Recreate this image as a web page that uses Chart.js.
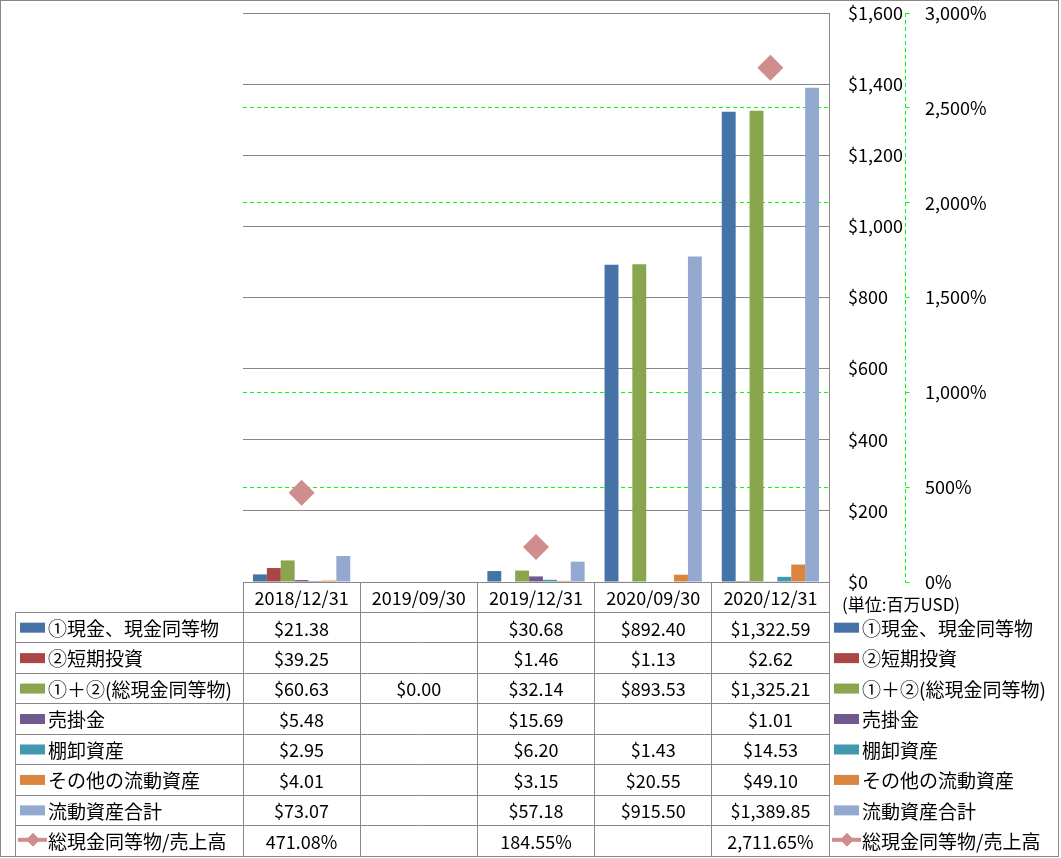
<!DOCTYPE html>
<html><head><meta charset="utf-8">
<script src="https://cdn.jsdelivr.net/npm/chart.js@4"></script>
<style>html,body{margin:0;padding:0;background:#fff}#wrap{width:1061px;height:858px;position:relative}</style>
</head><body><div id="wrap"><canvas id="c"></canvas></div>
<script>
const categories = ['2018/12/31','2019/09/30','2019/12/31','2020/09/30','2020/12/31'];
const cashEq      = [21.38, null, 30.68, 892.40, 1322.59];
const shortInv    = [39.25, null, 1.46, 1.13, 2.62];
const totalCash   = [60.63, 0.00, 32.14, 893.53, 1325.21];
const receivables = [5.48, null, 15.69, null, 1.01];
const inventory   = [2.95, null, 6.20, 1.43, 14.53];
const otherCur    = [4.01, null, 3.15, 20.55, 49.10];
const curTotal    = [73.07, null, 57.18, 915.50, 1389.85];
const cashToSales = [471.08, null, 184.55, null, 2711.65];

const barNames = ['①現金、現金同等物','②短期投資','①＋②(総現金同等物)','売掛金','棚卸資産','その他の流動資産','流動資産合計'];
const barValues = [cashEq, shortInv, totalCash, receivables, inventory, otherCur, curTotal];
const barColors = ['#4572A7','#AA4643','#89A54E','#71588F','#4198AF','#DB843D','#93A9CF'];
const lineName = '総現金同等物/売上高';
const lineColor = '#CF8D8D';
const unitLabel = '(単位:百万USD)';

const FONT = '"Noto Sans CJK JP", sans-serif';
const GRAY = '#878787';
const GREEN = '#00FF00';

const fmtMoney = v => '$' + v.toLocaleString('en-US',{minimumFractionDigits:2, maximumFractionDigits:2});
const fmtPct = v => v.toLocaleString('en-US',{minimumFractionDigits:2, maximumFractionDigits:2}) + '%';

const datasets = barValues.map((vals,i)=>({
  type:'bar', label: barNames[i], data: vals, backgroundColor: barColors[i],
  yAxisID:'y', categoryPercentage:0.83, barPercentage:1.0, borderWidth:0
}));
datasets.push({
  type:'line', label: lineName, data: cashToSales, yAxisID:'y1', showLine:false,
  pointStyle:'rectRot', pointRadius:13, pointHoverRadius:13,
  backgroundColor: lineColor, borderColor: lineColor, pointBorderWidth:0
});

const al = v => Math.round(v - 0.5) + 0.5;

const greenGridPlugin = {
  id:'greenGrid',
  beforeDraw(chart){
    const ctx = chart.ctx, ca = chart.chartArea, y1 = chart.scales.y1;
    ctx.save();
    ctx.strokeStyle = GREEN; ctx.lineWidth = 1;
    y1.ticks.forEach(t => {
      const yy = al(y1.getPixelForValue(t.value));
      if (t.value !== 0 && t.value !== 3000) {
        ctx.setLineDash([4,3]);
        ctx.beginPath(); ctx.moveTo(ca.left, yy); ctx.lineTo(ca.right, yy); ctx.stroke();
      }
      ctx.setLineDash([]);
      ctx.beginPath(); ctx.moveTo(al(y1.left), yy); ctx.lineTo(al(y1.left) + 4, yy); ctx.stroke();
    });
    ctx.setLineDash([4,3]);
    ctx.beginPath(); ctx.moveTo(al(y1.left), ca.top); ctx.lineTo(al(y1.left), ca.bottom); ctx.stroke();
    ctx.restore();
  }
};

const tablePlugin = {
  id:'tablePlugin',
  afterDraw(chart){
    const ctx = chart.ctx, x = chart.scales.x, ca = chart.chartArea;
    const n = categories.length;
    const colW = (x.right - x.left)/n;
    const top = ca.bottom;
    const rowH = 30.45;
    const legL = 15.5;
    const nRows = barNames.length + 1;
    const bottom = al(top + (nRows+1)*rowH);
    ctx.save();
    ctx.strokeStyle = GRAY; ctx.lineWidth = 1;
    for (let r=1; r<=nRows+1; r++){
      const yy = al(top + r*rowH);
      ctx.beginPath(); ctx.moveTo(legL, yy); ctx.lineTo(al(ca.right), yy); ctx.stroke();
    }
    for (let c=0; c<=n; c++){
      const xx = al(x.left + c*colW);
      ctx.beginPath(); ctx.moveTo(xx, al(top)); ctx.lineTo(xx, bottom); ctx.stroke();
    }
    ctx.beginPath(); ctx.moveTo(legL, al(top+rowH)); ctx.lineTo(legL, bottom); ctx.stroke();
    ctx.strokeRect(0.5, 0.5, 1058, 856);
    ctx.fillStyle = '#000'; ctx.textBaseline = 'middle'; ctx.textAlign = 'center';
    ctx.font = '18px ' + FONT;
    categories.forEach((c,i)=>{ ctx.fillText(c, x.getPixelForValue(i), top + rowH/2 + 1); });
    const allRows = barValues.concat([cashToSales]);
    allRows.forEach((vals,r)=>{
      const cy = top + (r+1.5)*rowH + 1;
      vals.forEach((v,i)=>{
        if (v === null) return;
        ctx.fillText(r === allRows.length-1 ? fmtPct(v) : fmtMoney(v), x.getPixelForValue(i), cy);
      });
    });
    const drawKey = (kx, r, cy) => {
      if (r < barNames.length){
        ctx.fillStyle = barColors[r];
        ctx.fillRect(kx, cy-5, 25, 10);
      } else {
        ctx.fillStyle = lineColor; ctx.strokeStyle = lineColor;
        ctx.lineWidth = 4;
        const ly = cy - 1;
        ctx.beginPath(); ctx.moveTo(kx-2, ly); ctx.lineTo(kx+27, ly); ctx.stroke();
        ctx.beginPath(); ctx.moveTo(kx+13, ly-7); ctx.lineTo(kx+20, ly); ctx.lineTo(kx+13, ly+7); ctx.lineTo(kx+6, ly); ctx.closePath(); ctx.fill();
      }
    };
    const names = barNames.concat([lineName]);
    ctx.textAlign = 'left';
    names.forEach((nm,r)=>{
      const cy = top + (r+1.5)*rowH;
      drawKey(20, r, cy);
      drawKey(834, r, cy);
      ctx.fillStyle = '#000'; ctx.font = '19px ' + FONT;
      ctx.fillText(nm, 48, cy + 1);
      ctx.fillText(nm, 862, cy + 1);
    });
    ctx.font = '17px ' + FONT;
    ctx.fillText(unitLabel, 842, top + 23);
    ctx.restore();
  }
};

new Chart(document.getElementById('c'), {
  type:'bar',
  data:{ labels: categories, datasets },
  options:{
    responsive:true, maintainAspectRatio:false, animation:false,
    layout:{ padding:{ left:243, top:13, bottom:276, right:0 } },
    plugins:{ legend:{display:false}, tooltip:{enabled:false} },
    font:{ family: FONT },
    scales:{
      x:{ display:false, offset:true },
      y:{
        position:'right', min:0, max:1600, weight:0,
        ticks:{ stepSize:200, padding:19, crossAlign:'near', color:'#000', font:{size:18, family:FONT},
          callback: v => '$' + Number(v).toLocaleString('en-US') },
        grid:{ color:GRAY, drawTicks:false, lineWidth:1 },
        border:{ display:true, color:GRAY, width:1 },
        afterFit: s => { s.width = 76; s.paddingTop = 0; s.paddingBottom = 0; }
      },
      y1:{
        position:'right', min:0, max:3000, weight:1,
        ticks:{ stepSize:500, padding:20, crossAlign:'near', color:'#000', font:{size:18, family:FONT},
          callback: v => Number(v).toLocaleString('en-US') + '%' },
        grid:{ display:false, drawTicks:false },
        border:{ display:false },
        afterFit: s => { s.width = 156; s.paddingTop = 0; s.paddingBottom = 0; }
      }
    }
  },
  plugins:[greenGridPlugin, tablePlugin]
});
</script>
</body></html>
